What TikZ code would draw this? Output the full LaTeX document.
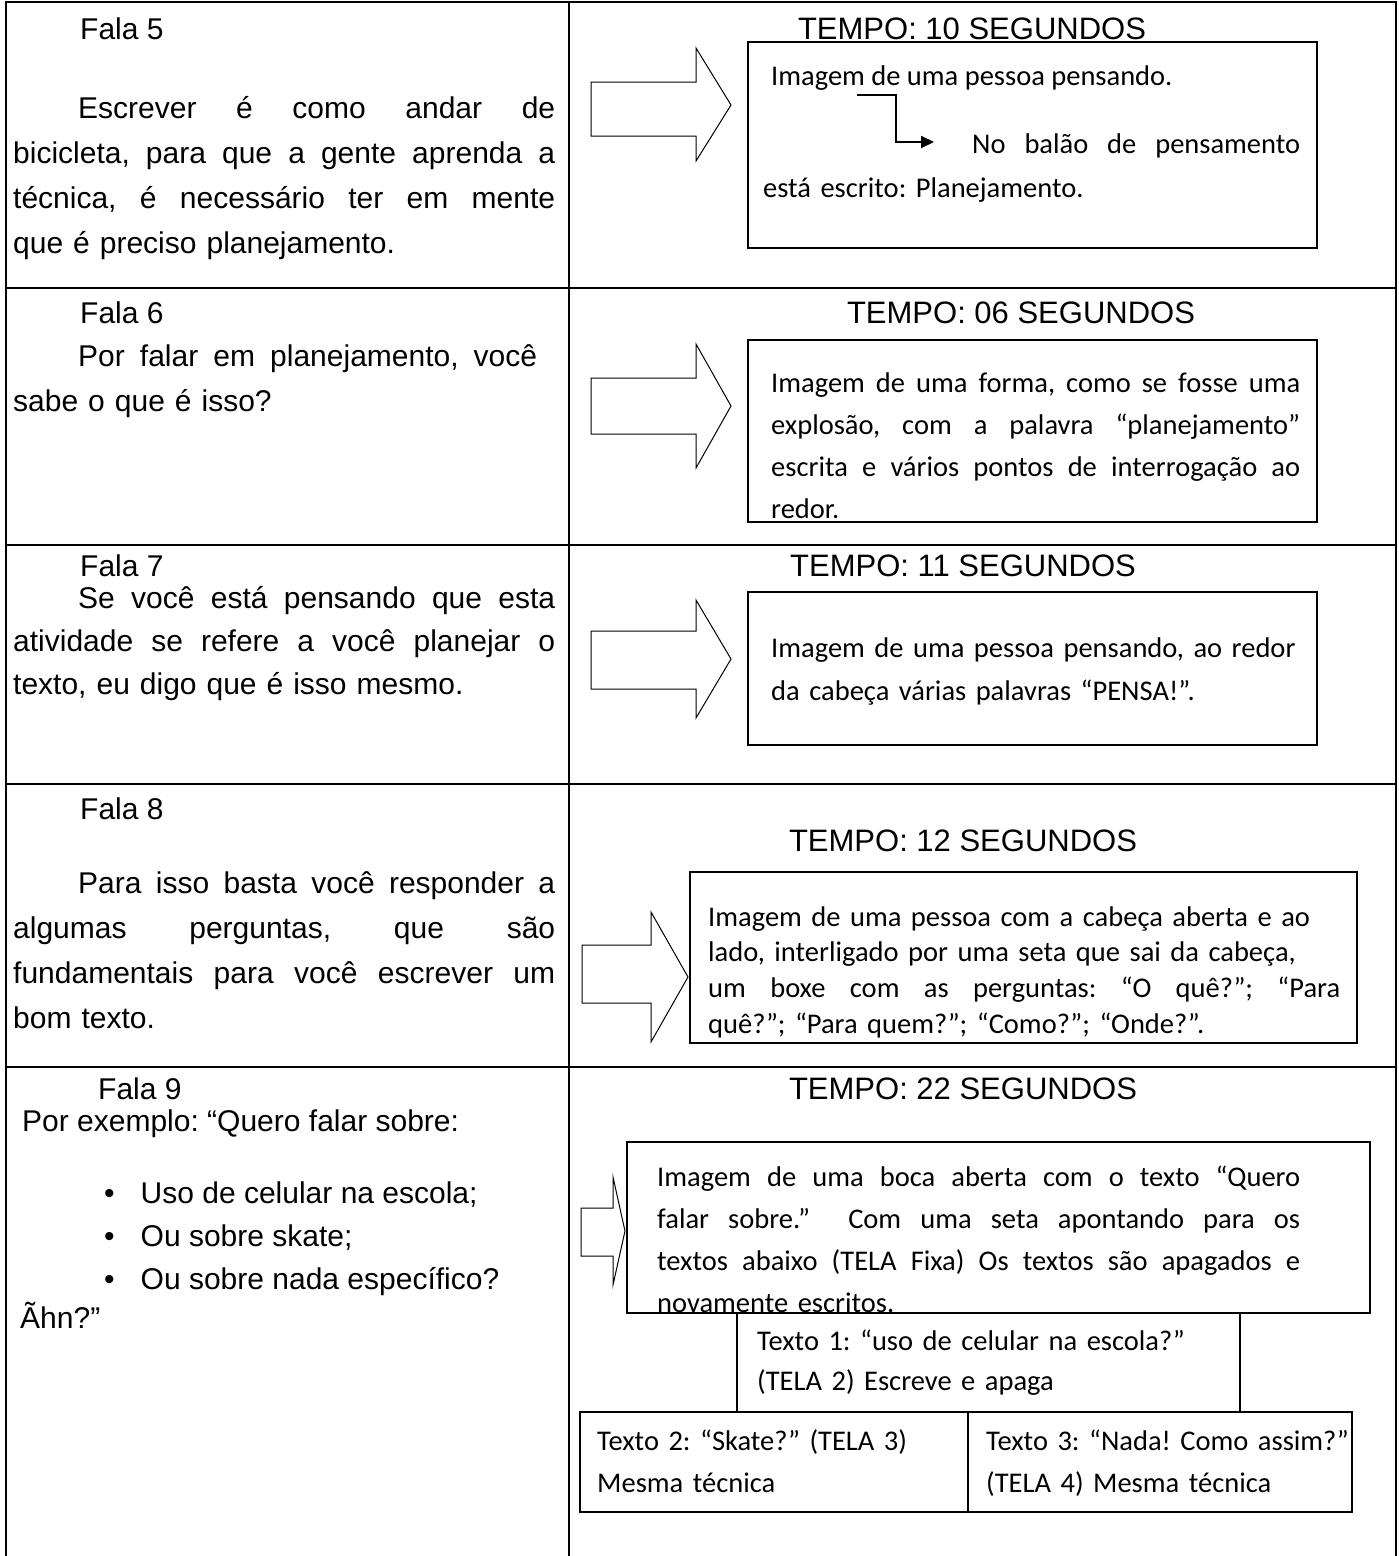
\documentclass[tikz,border=0pt]{standalone}
\usepackage{fontspec}
\setmainfont{Liberation Sans}
\newfontfamily\calibrifont{Carlito}
\usetikzlibrary{positioning,arrows.meta,calc}
\setlength{\parindent}{0pt}
\frenchspacing
\newcommand{\falafont}{\fontsize{30}{45}\selectfont}
\newcommand{\boxfont}[1][42]{\calibrifont\fontsize{28.5}{#1}\selectfont}
% one line, spaces stretched to the given width
\newcommand{\spreadline}[2]{\leavevmode\hbox to #1{\spaceskip=\fontdimen2\font plus 1fil\relax#2}}
\tikzset{
    x=1pt,
    y=-1pt,
    grid line/.style = {
        line width=2.5pt
    },
    fala/.style = {
        anchor=base west,
        inner sep=0pt,
        font=\falafont
    },
    speech/.style = {
        anchor=base west,
        inner sep=0pt,
        text width=542pt,
        font=\falafont
    },
    tempo/.style = {
        anchor=base,
        inner sep=0pt,
        font=\fontsize{31}{40}\selectfont
    },
    scenebox/.style = {
        draw,
        anchor=north west,
        inner sep=0pt,
        outer sep=0pt,
        line width=1.5pt
    },
    desc/.style = {
        anchor=base west,
        inner sep=0pt,
        font=\boxfont
    },
    hollow/.style = {
        draw,
        line width=1pt
    },
    >={Triangle[length=13pt,width=12pt]},
}

\begin{document}
\begin{tikzpicture}
    \useasboundingbox (0,0) rectangle (1398,1556);

    % table
    \draw[grid line] (6,1556) -- (6,2) -- (1396,2) -- (1396,1556);
    \draw[grid line] (569,2) -- (569,1556);
    \foreach \y in {288,545,784,1067}
        \draw[grid line] (6,\y) -- (1396,\y);

    % Fala 5
    \node[fala] (fala5) at (80,39) {Fala 5};
    \node[speech] (speech5) at (13,118) {\hspace*{65pt}\spreadline{477pt}{Escrever é como andar de}\\
        \spreadline{542pt}{bicicleta, para que a gente aprenda a}\\
        \spreadline{542pt}{técnica, é necessário ter em mente}\\
        que é preciso planejamento.};
    \node[tempo] (tempo5) at (972,39) {TEMPO: 10 SEGUNDOS};
    \draw[hollow] (591,82) -- (696,82) -- (696,48) -- (731,105) -- (696,161) -- (696,136) -- (591,136) -- cycle;
    \node[scenebox, minimum width=569pt, minimum height=206pt] (scene5) at (748,42) {};
    \node[desc] (img5) at (771,85) {Imagem de uma pessoa pensando.};
    \node[desc, text width=537pt, font={\boxfont[44]}] (balloon5) at (763,153)
        {\hspace*{209pt}\spreadline{328pt}{No balão de pensamento}\\ está escrito: Planejamento.};
    \coordinate (think5) at (857,95);
    \coordinate (bend5) at (896,142);
    \coordinate (point5) at (934,142);
    \path[draw, ->, line width=2pt] (think5) -| (bend5) -- (point5);

    % Fala 6
    \node[fala] (fala6) at (80,323) {Fala 6};
    \node[speech] (speech6) at (13,366) {\hspace*{65pt}\spreadline{459pt}{Por falar em planejamento, você}\\ sabe o que é isso?};
    \node[tempo] (tempo6) at (1021,323) {TEMPO: 06 SEGUNDOS};
    \draw[hollow] (591,378) -- (696,378) -- (696,344) -- (731,406) -- (696,468) -- (696,434) -- (591,434) -- cycle;
    \node[scenebox, minimum width=569pt, minimum height=182pt] (scene6) at (748,340) {};
    \node[desc, text width=529pt] (img6) at (771,392)
        {\spreadline{529pt}{Imagem de uma forma, como se fosse uma}\\
        \spreadline{529pt}{explosão, com a palavra “planejamento”}\\
        \spreadline{529pt}{escrita e vários pontos de interrogação ao}\\
        redor.};

    % Fala 7
    \node[fala] (fala7) at (80,576) {Fala 7};
    \node[speech, font={\fontsize{30}{43}\selectfont}] (speech7) at (13,608)
        {\hspace*{65pt}\spreadline{477pt}{Se você está pensando que esta}\\
        \spreadline{542pt}{atividade se refere a você planejar o}\\
        texto, eu digo que é isso mesmo.};
    \node[tempo] (tempo7) at (963,576) {TEMPO: 11 SEGUNDOS};
    \draw[hollow] (591,631) -- (696,631) -- (696,600) -- (731,659) -- (696,718) -- (696,689) -- (591,689) -- cycle;
    \node[scenebox, minimum width=569pt, minimum height=153pt] (scene7) at (748,592) {};
    \node[desc, text width=540pt, font={\boxfont[43]}] (img7) at (771,657)
        {Imagem de uma pessoa pensando, ao redor\\
        da cabeça várias palavras “PENSA!”.};

    % Fala 8
    \node[fala] (fala8) at (80,819) {Fala 8};
    \node[speech] (speech8) at (13,893)
        {\hspace*{65pt}\spreadline{477pt}{Para isso basta você responder a}\\
        \spreadline{542pt}{algumas perguntas, que são}\\
        \spreadline{542pt}{fundamentais para você escrever um}\\
        bom texto.};
    \node[tempo] (tempo8) at (963,851) {TEMPO: 12 SEGUNDOS};
    \draw[hollow] (582,945) -- (651,945) -- (651,912) -- (688,977) -- (651,1042) -- (651,1003) -- (582,1003) -- cycle;
    \node[scenebox, minimum width=667pt, minimum height=171pt] (scene8) at (690,872) {};
    \node[desc, text width=640pt, font={\boxfont[35.7]}] (img8) at (708,926)
        {Imagem de uma pessoa com a cabeça aberta e ao\\
        lado, interligado por uma seta que sai da cabeça,\\
        \spreadline{632pt}{um boxe com as perguntas: “O quê?”; “Para}\\
        quê?”; “Para quem?”; “Como?”; “Onde?”.};

    % Fala 9
    \node[fala] (fala9) at (98,1099) {Fala 9};
    \node[fala] (example9) at (22,1131) {Por exemplo: “Quero falar sobre:};
    \node[fala] (topic1) at (104,1203) {\textbullet\hspace{26pt}Uso de celular na escola;};
    \node[fala] (topic2) at (104,1246) {\textbullet\hspace{26pt}Ou sobre skate;};
    \node[fala] (topic3) at (104,1289) {\textbullet\hspace{26pt}Ou sobre nada específico?};
    \node[fala] (ahn9) at (20,1328) {Ãhn?”};
    \node[tempo] (tempo9) at (963,1099) {TEMPO: 22 SEGUNDOS};
    \draw[hollow] (581,1208) -- (613,1208) -- (613,1177) -- (625,1231) -- (613,1285) -- (613,1256) -- (581,1256) -- cycle;
    \node[scenebox, minimum width=743pt, minimum height=171pt] (scene9) at (627,1142) {};
    \node[desc, text width=643pt] (img9) at (657,1186)
        {\spreadline{643pt}{Imagem de uma boca aberta com o texto “Quero}\\
        \spreadline{643pt}{falar sobre.” \ Com uma seta apontando para os}\\
        \spreadline{643pt}{textos abaixo (TELA Fixa) Os textos são apagados e}\\
        novamente escritos.};
    \node[scenebox, minimum width=503pt, minimum height=99pt] (text1box) at (737,1313) {};
    \node[desc, text width=480pt, font={\boxfont[40]}] (text1) at (757,1350)
        {Texto 1: “uso de celular na escola?”\\ (TELA 2) Escreve e apaga};
    \node[scenebox, minimum width=388pt, minimum height=100pt] (text2box) at (580,1412) {};
    \node[scenebox, minimum width=384pt, minimum height=100pt] (text3box) at (968,1412) {};
    \node[desc, text width=375pt] (text2) at (597,1450)
        {Texto 2: “Skate?” (TELA 3)\\ Mesma técnica};
    \node[desc, text width=375pt] (text3) at (986,1450)
        {Texto 3: “Nada! Como assim?”\\ (TELA 4) Mesma técnica};
\end{tikzpicture}
\end{document}
